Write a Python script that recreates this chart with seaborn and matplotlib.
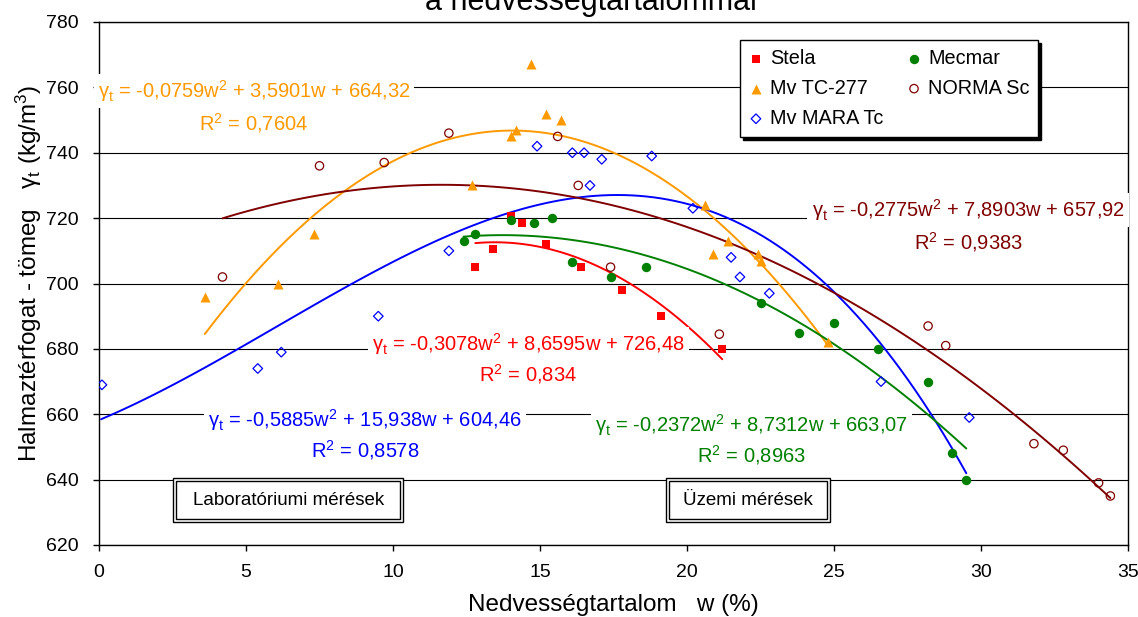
import numpy as np
import matplotlib
matplotlib.use("Agg")
import matplotlib.pyplot as plt
import matplotlib.patches as mpatches
import seaborn as sns

# values: nedvesség w (%) and halmaztérfogat-tömeg (kg/m3)
stela_w = [12.8, 13.4, 14.0, 14.4, 15.2, 16.4, 17.8, 19.1, 21.2]
stela_y = [705, 710.5, 720.5, 718.5, 712, 705, 698, 690, 680]

tc277_w = [3.6, 6.1, 7.3, 12.7, 14.0, 14.2, 14.7, 15.2, 15.7, 20.6, 20.9, 21.4, 22.4, 22.5, 24.8]
tc277_y = [696, 700, 715, 730, 745, 747, 767, 752, 750, 724, 709, 713, 709, 707, 682]

mara_w = [0.1, 5.4, 6.2, 9.5, 11.9, 14.9, 16.1, 16.5, 16.7, 17.1, 18.8, 20.2, 21.5, 21.8, 22.8, 26.6, 29.6]
mara_y = [669, 674, 679, 690, 710, 742, 740, 740, 730, 738, 739, 723, 708, 702, 697, 670, 659]

mecmar_w = [12.4, 12.8, 14.0, 14.8, 15.4, 16.1, 17.4, 18.6, 22.5, 23.8, 25.0, 26.5, 28.2, 29.0, 29.5]
mecmar_y = [713, 715, 719.5, 718.5, 720, 706.5, 702, 705, 694, 685, 688, 680, 670, 648, 640]

norma_w = [4.2, 7.5, 9.7, 11.9, 15.6, 16.3, 17.4, 21.1, 28.2, 28.8, 31.8, 32.8, 34.0, 34.4]
norma_y = [702, 736, 737, 746, 745, 730, 705, 684.5, 687, 681, 651, 649, 639, 635]

# the MARA trend line drawn in the chart is not a fit of the points above,
# so it is read off the picture as well
mara_trend_w = [0.07, 2.5, 4.7, 7.5, 10.1, 12.4, 13.5, 15.8, 17.6, 20.2, 21.5, 23.3, 24.75, 26.7, 28.15, 29.5]
mara_trend_y = [659, 668, 680, 695, 706, 717, 720, 726.5, 727.5, 723, 720, 710, 700, 680, 661, 643]

# trendline equations as printed on the chart (a, b, c, R2)
eq_stela = ["-0,3078", "8,6595", "726,48", "0,834"]
eq_tc277 = ["-0,0759", "3,5901", "664,32", "0,7604"]
eq_mara = ["-0,5885", "15,938", "604,46", "0,8578"]
eq_mecmar = ["-0,2372", "8,7312", "663,07", "0,8963"]
eq_norma = ["-0,2775", "7,8903", "657,92", "0,9383"]

x_ticks = [0, 5, 10, 15, 20, 25, 30, 35]
y_ticks = [620, 640, 660, 680, 700, 720, 740, 760, 780]

#%%
sns.set_theme(style="white")
plt.rcParams['font.family'] = ['Liberation Sans', 'DejaVu Sans']
plt.rcParams['mathtext.fontset'] = 'custom'
plt.rcParams['mathtext.rm'] = 'Liberation Sans'
plt.rcParams['mathtext.it'] = 'Liberation Sans:italic'
plt.rcParams['mathtext.bf'] = 'Liberation Sans:bold'
plt.rcParams['mathtext.default'] = 'regular'
plt.rcParams['text.color'] = 'black'
plt.rcParams['axes.labelcolor'] = 'black'

fig = plt.figure(figsize=(11.38, 6.17), dpi=100)
ax = fig.add_axes([99/1138, 1-545/617, 1029/1138, 523/617])

#series: (name, w, y, marker, face, edge, size, eq, colour, label pos, trend points)
series = [
    ("Stela", stela_w, stela_y, "s", "#FF0000", "#FF0000", 40, eq_stela, "#FF0000", (14.6, 679.4, 670.0), None),
    ("Mv TC-277", tc277_w, tc277_y, "^", "#FF9900", "#FF9900", 52, eq_tc277, "#FF9900", (5.27, 756.7, 747.0), None),
    ("Mv MARA Tc", mara_w, mara_y, "D", "none", "#0000FF", 24, eq_mara, "#0000FF", (9.05, 656.2, 646.8),
     (mara_trend_w, mara_trend_y)),
    ("Mecmar", mecmar_w, mecmar_y, "o", "#008000", "#008000", 46, eq_mecmar, "#008000", (22.2, 654.7, 645.2), None),
    ("NORMA Sc", norma_w, norma_y, "o", "none", "#800000", 36, eq_norma, "#800000", (29.56, 720.3, 710.6), None),
]

for name, w, y, mk, fc, ec, s, eq, col, pos, trend in series:
    if trend is None:
        #quadratic trend like the excel one, only over the data range
        coef = np.polyfit(w, y, 2)
        xs = np.linspace(min(w), max(w), 120)
    else:
        #smooth the read curve points
        coef = np.polyfit(trend[0], trend[1], 3)
        xs = np.linspace(min(trend[0]), max(trend[0]), 120)
    sns.lineplot(x=xs, y=np.polyval(coef, xs), color=col, linewidth=1.4,
                 estimator=None, sort=False, ax=ax, zorder=2)
    sns.scatterplot(x=w, y=y, marker=mk, s=s, facecolor=fc, edgecolor=ec,
                    linewidth=0.9 if fc == "none" else 0, label=name, ax=ax, zorder=3)
    cx, b1, b2 = pos
    ax.text(cx, b1, r"$\gamma_t$ = " + eq[0] + "w$^2$ + " + eq[1] + "w + " + eq[2],
            color=col, fontsize=14.5, ha="center", va="baseline", zorder=6,
            bbox=dict(boxstyle="square,pad=0.2", fc="white", ec="none"))
    ax.text(cx, b2, "R$^2$ = " + eq[3], color=col, fontsize=14.5,
            ha="center", va="baseline", zorder=6,
            bbox=dict(boxstyle="square,pad=0.2", fc="white", ec="none"))

#double framed notes
for txt, x0, x1 in [("Laboratóriumi mérések", 2.53, 10.35), ("Üzemi mérések", 19.28, 24.86)]:
    ax.add_patch(mpatches.Rectangle((x0, 627.1), x1-x0, 13.3, fc="white", ec="black", lw=1, zorder=6))
    ax.add_patch(mpatches.Rectangle((x0+0.1, 628.0), x1-x0-0.2, 11.5, fc="none", ec="black", lw=1, zorder=6))
    ax.text((x0+x1)/2, 633.7, txt, fontsize=13.5, ha="center", va="center", zorder=7)

ax.set_xlim(0, 35)
ax.set_ylim(620, 780)
ax.set_xticks(x_ticks)
ax.set_yticks(y_ticks)
ax.set_axisbelow(True)
ax.yaxis.grid(True, color="black", linewidth=0.8)
ax.xaxis.grid(False)
for sp in ax.spines.values():
    sp.set_color("black")
    sp.set_linewidth(1)
ax.tick_params(axis="both", direction="out", length=4, width=1, color="black",
               labelsize=14, labelcolor="black", bottom=True, left=True)
ax.tick_params(axis="x", pad=10)
ax.tick_params(axis="y", pad=10.5)

ax.set_xlabel("Nedvességtartalom   w (%)", fontsize=17.5)
ax.xaxis.label.set_va("baseline")
ax.xaxis.set_label_coords(0.5, (545-611)/523)
ax.set_ylabel(r"Halmaztérfogat - tömeg   $\gamma_t$ (kg/m$^3$)", fontsize=17.5)
ax.yaxis.label.set_va("center")
ax.yaxis.set_label_coords((29-99)/1029, 0.52)

fig.text(591/1138, 1-10/617, "a nedvességtartalommal", fontsize=22, ha="center", va="baseline")

handles, labels = ax.get_legend_handles_labels()
hmap = dict(zip(labels, handles))
order = ["Stela", "Mv TC-277", "Mv MARA Tc", "Mecmar", "NORMA Sc"]
leg = ax.legend([hmap[k] for k in order], order, ncol=2, loc="upper left",
                bbox_to_anchor=(0.623, 0.966), borderaxespad=0, frameon=True,
                fancybox=False, framealpha=1, edgecolor="black", fontsize=14.3,
                markerscale=1.0, handlelength=0.7, handletextpad=0.35,
                columnspacing=1.2, labelspacing=0.56, borderpad=0.45,
                shadow={"ox": 2.2, "oy": -2.2, "color": "black", "alpha": 1})
leg.get_frame().set_linewidth(1)
leg.set_zorder(8)

plt.savefig("out.png", dpi=100)
